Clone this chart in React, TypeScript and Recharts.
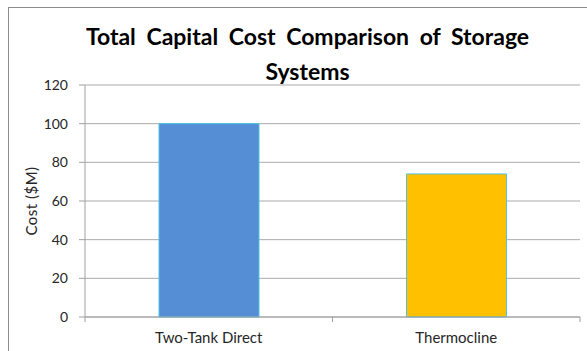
import { BarChart, Bar, XAxis, YAxis, CartesianGrid, Cell, Label } from "recharts";

const systems = ["Two-Tank Direct", "Thermocline"];
const costs = [100, 74];
const barColors = ["#558ED5", "#FFC000"];
const yTicks = [0, 20, 40, 60, 80, 100, 120];

const data = systems.map((name, i) => ({ name, cost: costs[i] }));

const FONT = "Lato, 'Open Sans', sans-serif";

// category tick with boundary marks at the edges of each band
function BandTick(props: any) {
  const { x, y, payload, index } = props;
  const half = payload && payload.offset ? payload.offset : 123.75;
  return (
    <g>
      {index === 0 && (
        <line x1={x - half} y1={y - 8} x2={x - half} y2={y - 3} stroke="#a0a0a0" />
      )}
      <line x1={x + half} y1={y - 8} x2={x + half} y2={y - 3} stroke="#a0a0a0" />
      <text x={x} y={y + 18} textAnchor="middle" fontSize={15} fontFamily={FONT} fill="#262626">
        {payload.value}
      </text>
    </g>
  );
}

export default function App() {
  return (
    <div style={{ position: "absolute", left: 0, top: 0, width: 587, height: 351, overflow: "hidden", background: "#fff" }}>
      <div
        style={{
          position: "absolute",
          left: 8,
          top: 7,
          width: 600,
          height: 360,
          border: "1px solid #8c8c8c",
        }}
      />
      <div
        style={{
          position: "absolute",
          left: 0,
          width: 587,
          top: 19,
          textAlign: "center",
          fontFamily: FONT,
          fontWeight: 700,
          fontSize: 23,
          lineHeight: "35px",
          color: "#000",
          wordSpacing: 5,
        }}
      >
        <div style={{ paddingLeft: 28 }}>Total Capital Cost Comparison of Storage</div>
        <div style={{ paddingLeft: 28 }}>Systems</div>
      </div>
      <div style={{ position: "absolute", left: 0, top: 0 }}>
        <BarChart width={587} height={351} data={data} margin={{ top: 85, right: 7, bottom: 0, left: 0 }}>
          <CartesianGrid vertical={false} stroke="#ababab" />
          <XAxis
            dataKey="name"
            axisLine={{ stroke: "#a0a0a0" }}
            tickLine={false}
            tick={<BandTick />}
            interval={0}
            height={34}
          />
          <YAxis
            domain={[0, 120]}
            ticks={yTicks}
            width={85}
            axisLine={{ stroke: "#a0a0a0" }}
            tickLine={{ stroke: "#a0a0a0" }}
            tickSize={6}
            tickMargin={11}
            tick={{ fontSize: 14, fontFamily: FONT, fill: "#262626" }}
          >
            <Label
              value="Cost ($M)"
              angle={-90}
              position="insideLeft"
              offset={32}
              style={{ fontSize: 15, fontFamily: FONT, fill: "#262626", textAnchor: "middle", letterSpacing: 0.5 }}
            />
          </YAxis>
          <Bar dataKey="cost" barSize={100} stroke="#4DC3E8" strokeWidth={1} isAnimationActive={false}>
            {data.map((d, i) => (
              <Cell key={d.name} fill={barColors[i]} />
            ))}
          </Bar>
        </BarChart>
      </div>
    </div>
  );
}
